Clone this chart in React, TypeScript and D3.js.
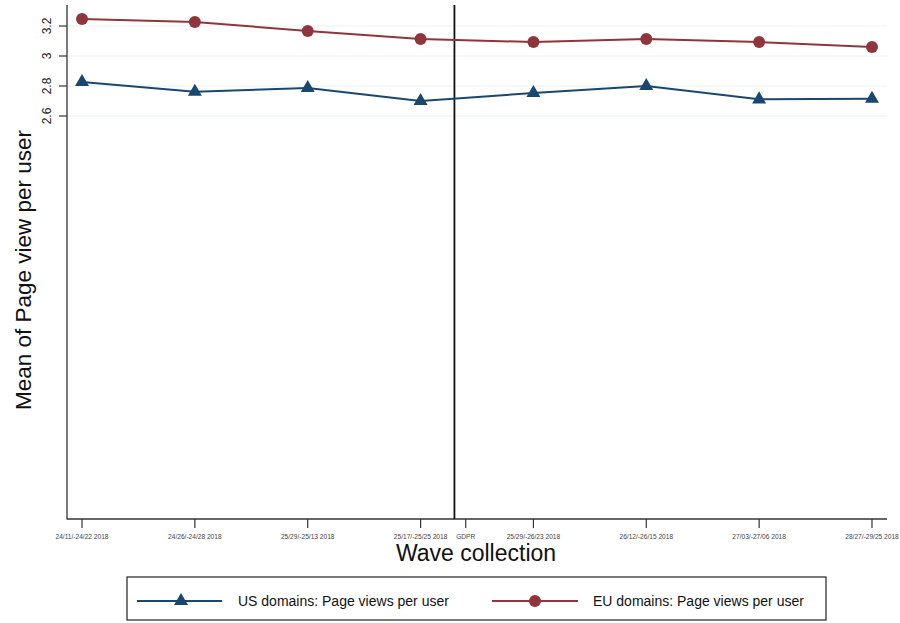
import React from "react";
import * as d3 from "d3";

const waves = [
  "24/11/-24/22 2018",
  "24/26/-24/28 2018",
  "25/29/-25/13 2018",
  "25/17/-25/25 2018",
  "25/29/-26/23 2018",
  "26/12/-26/15 2018",
  "27/03/-27/06 2018",
  "28/27/-29/25 2018",
];
const wavePos = [0, 1, 2, 3, 4, 5, 6, 7];
const usValues = [2.827, 2.762, 2.787, 2.7, 2.753, 2.8, 2.711, 2.715];
const euValues = [3.247, 3.227, 3.167, 3.113, 3.093, 3.113, 3.093, 3.06];
const yTicks = [2.6, 2.8, 3, 3.2];
const gdprTick = { pos: 3.4, label: "GDPR" };
const gdprLine = 3.3;

const US_COLOR = "#1a476f";
const EU_COLOR = "#90353b";
const FONT = "'Liberation Sans', Arial, Helvetica, sans-serif";

export default function App() {
  const W = 900, H = 623;
  const left = 67, right = 887, top = 5, bottom = 519;
  const x = d3.scaleLinear().domain([-0.133, 7.133]).range([left, right]);
  const y = d3.scaleLinear().domain([-0.0867, 3.34]).range([bottom, top]);

  const line = d3.line<number>().x((_, i) => x(wavePos[i])).y((d) => y(d));

  const tri = (cx: number, cy: number, s = 6) =>
    `M${cx},${cy - s} L${cx + s * 1.0},${cy + s * 0.72} L${cx - s * 1.0},${cy + s * 0.72} Z`;

  const xTicks = [
    ...wavePos.map((p, i) => ({ pos: p, label: waves[i] })),
    gdprTick,
  ];

  return (
    <svg
      width={W}
      height={H}
      style={{ position: "absolute", left: 0, top: 0, background: "#fff" }}
      fontFamily={FONT}
    >
      <rect x={0} y={0} width={W} height={H} fill="#fff" />
      {/* grid */}
      {yTicks.map((t) => (
        <line key={"g" + t} x1={left} x2={right} y1={y(t)} y2={y(t)} stroke="#eaf2f3" strokeWidth={1.2} />
      ))}
      {/* y axis */}
      <line x1={left} x2={left} y1={top} y2={bottom + 0.5} stroke="#333" strokeWidth={1.3} />
      {yTicks.map((t) => (
        <g key={"yt" + t}>
          <line x1={left - 8} x2={left} y1={y(t)} y2={y(t)} stroke="#333" strokeWidth={1.2} />
          <text
            transform={`translate(${left - 16},${y(t)}) rotate(-90)`}
            textAnchor="middle"
            fontSize={12}
            fill="#222"
          >
            {d3.format("")(t)}
          </text>
        </g>
      ))}
      {/* x axis */}
      <line x1={left} x2={right} y1={bottom} y2={bottom} stroke="#333" strokeWidth={1.3} />
      {xTicks.map((t) => (
        <g key={"xt" + t.label}>
          <line x1={x(t.pos)} x2={x(t.pos)} y1={bottom} y2={bottom + 9} stroke="#333" strokeWidth={1.2} />
          <text x={x(t.pos)} y={bottom + 20} textAnchor="middle" fontSize={6.6} fill="#444">
            {t.label}
          </text>
        </g>
      ))}
      {/* GDPR line */}
      <line x1={x(gdprLine)} x2={x(gdprLine)} y1={top} y2={bottom} stroke="#111" strokeWidth={1.8} />
      {/* series */}
      <path d={line(usValues) || ""} fill="none" stroke={US_COLOR} strokeWidth={2} />
      <path d={line(euValues) || ""} fill="none" stroke={EU_COLOR} strokeWidth={2} />
      {usValues.map((v, i) => (
        <path key={"us" + i} d={tri(x(wavePos[i]), y(v) - 1, 7)} fill={US_COLOR} />
      ))}
      {euValues.map((v, i) => (
        <circle key={"eu" + i} cx={x(wavePos[i])} cy={y(v)} r={6} fill={EU_COLOR} />
      ))}
      {/* axis titles */}
      <text
        transform={`translate(31,270) rotate(-90)`}
        textAnchor="middle"
        fontSize={22.5}
        fill="#111"
      >
        Mean of Page view per user
      </text>
      <text x={476} y={561} textAnchor="middle" fontSize={23} fill="#111">
        Wave collection
      </text>
      {/* legend */}
      <rect x={127} y={577} width={699} height={43} fill="#fff" stroke="#222" strokeWidth={1.2} />
      <line x1={137} x2={222} y1={601} y2={601} stroke={US_COLOR} strokeWidth={2} />
      <path d={tri(181, 600, 7)} fill={US_COLOR} />
      <text x={238} y={606} fontSize={14} fill="#111">US domains: Page views per user</text>
      <line x1={492} x2={578} y1={601} y2={601} stroke={EU_COLOR} strokeWidth={2} />
      <circle cx={535} cy={601} r={6} fill={EU_COLOR} />
      <text x={593} y={606} fontSize={14} fill="#111">EU domains: Page views per user</text>
    </svg>
  );
}
